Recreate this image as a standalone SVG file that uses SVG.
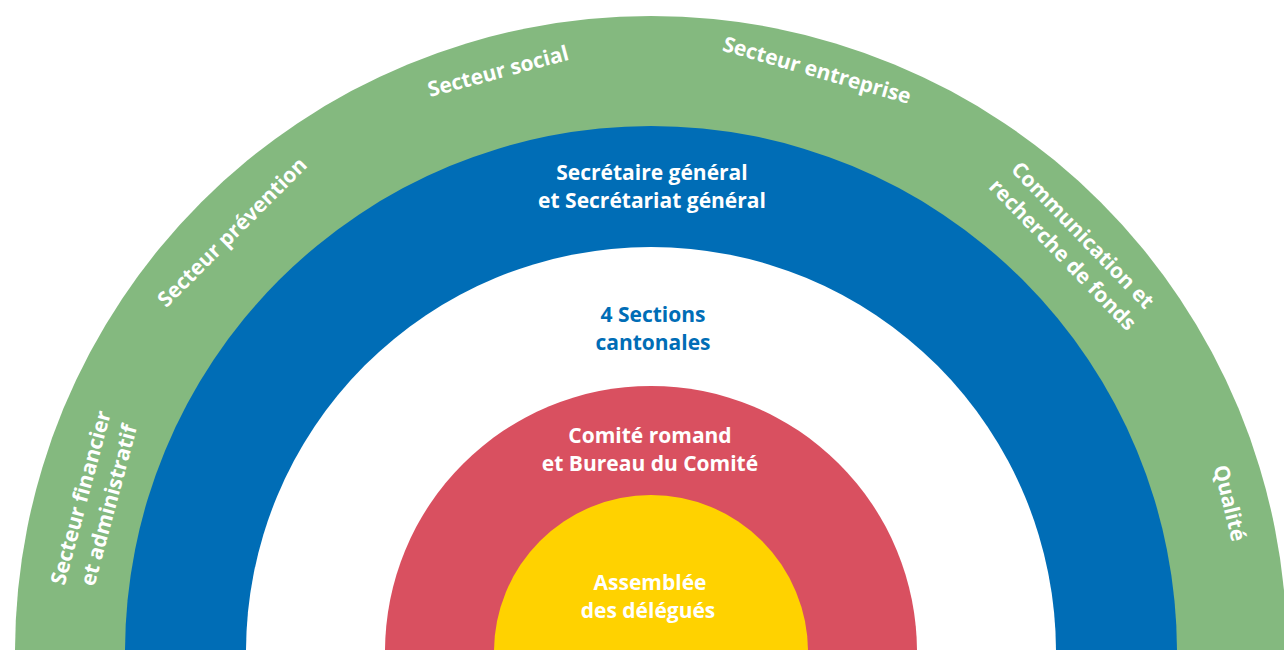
<svg xmlns="http://www.w3.org/2000/svg" width="1284" height="650" viewBox="0 0 1284 650">
<style>
.t{font-family:"Open Sans","Noto Sans","Liberation Sans",sans-serif;font-weight:bold;font-size:21px;text-anchor:middle;fill:#ffffff}
.b{fill:#006db6}
</style>
<rect width="1284" height="650" fill="#ffffff"/>
<g id="ring-green"><circle cx="651" cy="652" r="636" fill="#84b97f"/></g>
<g id="ring-blue"><circle cx="651" cy="652" r="526" fill="#006db6"/></g>
<g id="ring-white"><circle cx="651" cy="652" r="405" fill="#ffffff"/></g>
<g id="ring-red"><circle cx="651" cy="652" r="266" fill="#d95060"/></g>
<g id="ring-yellow"><circle cx="651" cy="652" r="157" fill="#ffd200"/></g>

<g id="label-financier" transform="translate(80.5,497.5) rotate(-75)">
<text class="t" x="0" y="7.5">Secteur financier</text>
<text class="t" x="0" y="36.5">et administratif</text>
</g>
<g id="label-prevention" transform="translate(232,232) rotate(-45)">
<text class="t" x="0" y="7.5">Secteur prévention</text>
</g>
<g id="label-social" transform="translate(498,71) rotate(-15)">
<text class="t" x="0" y="7.5">Secteur social</text>
</g>
<g id="label-entreprise" transform="translate(817,70) rotate(16)">
<text class="t" x="0" y="7.5">Secteur entreprise</text>
</g>
<g id="label-communication" transform="translate(1083,235) rotate(46)">
<text class="t" x="0" y="7.5">Communication et</text>
<text class="t" x="0" y="35.5">recherche de fonds</text>
</g>
<g id="label-qualite" transform="translate(1230,503) rotate(76)">
<text class="t" x="0" y="7.5">Qualité</text>
</g>

<g id="label-secretariat">
<text class="t" x="652" y="180">Secrétaire général</text>
<text class="t" x="652" y="208">et Secrétariat général</text>
</g>
<g id="label-sections">
<text class="t b" x="653" y="322">4 Sections</text>
<text class="t b" x="653" y="350">cantonales</text>
</g>
<g id="label-comite">
<text class="t" x="650" y="443">Comité romand</text>
<text class="t" x="650" y="471">et Bureau du Comité</text>
</g>
<g id="label-assemblee">
<text class="t" x="650" y="590">Assemblée</text>
<text class="t" x="648" y="618">des délégués</text>
</g>
<g id="connectors"></g>
</svg>
